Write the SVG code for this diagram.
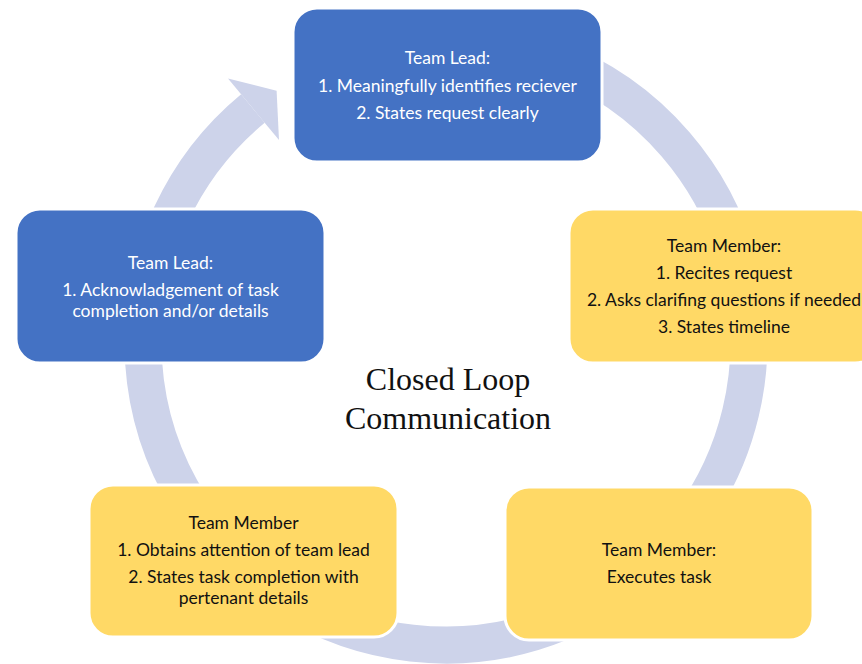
<svg xmlns="http://www.w3.org/2000/svg" width="862" height="664" viewBox="0 0 862 664">
<style>
.box{stroke:#ffffff;stroke-width:3}
.blue{fill:#4472C4}
.gold{fill:#FFD966}
.t{font-family:Lato,"Liberation Sans",sans-serif;font-size:17.5px;text-anchor:middle}
.tw{fill:#ffffff}
.tk{fill:#111111}
.title{font-family:"Liberation Serif","Times New Roman",serif;font-size:32px;text-anchor:middle;fill:#111111}
</style>
<rect width="862" height="664" fill="#ffffff"/>
<g id="connectors">
<path d="M 419.6 40.2 A 303 303 0 1 1 252.9 108.5" fill="none" stroke="#CDD3EA" stroke-width="37"/>
<polygon points="228,78.5 276.6,90.8 279,140.1" fill="#CDD3EA"/>
</g>
<g id="title">
<text class="title" x="448" y="390">Closed Loop</text>
<text class="title" x="448" y="429">Communication</text>
</g>
<g id="node-lead-request">
<rect class="box blue" x="293" y="8" width="309" height="154" rx="24"/>
<text class="t tw" x="447.5" y="64">Team Lead:</text>
<text class="t tw" x="447.5" y="92">1. Meaningfully identifies reciever</text>
<text class="t tw" x="447.5" y="119">2. States request clearly</text>
</g>
<g id="node-member-recite">
<rect class="box gold" x="569" y="209" width="310" height="154" rx="24"/>
<text class="t tk" x="724" y="252">Team Member:</text>
<text class="t tk" x="724" y="279">1. Recites request</text>
<text class="t tk" x="724" y="306">2. Asks clarifing questions if needed</text>
<text class="t tk" x="724" y="333">3. States timeline</text>
</g>
<g id="node-member-execute">
<rect class="box gold" x="505" y="487" width="308" height="153" rx="24"/>
<text class="t tk" x="659" y="556">Team Member:</text>
<text class="t tk" x="659" y="583">Executes task</text>
</g>
<g id="node-member-report">
<rect class="box gold" x="89" y="485" width="309" height="152" rx="24"/>
<text class="t tk" x="243.5" y="529">Team Member</text>
<text class="t tk" x="243.5" y="556">1. Obtains attention of team lead</text>
<text class="t tk" x="243.5" y="583">2. States task completion with</text>
<text class="t tk" x="243.5" y="604">pertenant details</text>
</g>
<g id="node-lead-ack">
<rect class="box blue" x="16" y="209" width="309" height="154" rx="24"/>
<text class="t tw" x="170.5" y="269">Team Lead:</text>
<text class="t tw" x="170.5" y="296">1. Acknowladgement of task</text>
<text class="t tw" x="170.5" y="317">completion and/or details</text>
</g>
</svg>
